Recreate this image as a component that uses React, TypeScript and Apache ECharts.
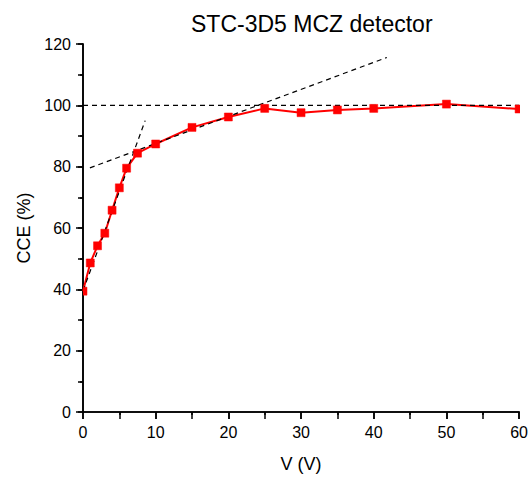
import React, { useEffect, useRef } from "react";
import * as echarts from "echarts";

const voltage = [0, 1, 2, 3, 4, 5, 6, 7.5, 10, 15, 20, 25, 30, 35, 40, 50, 60];
const cce = [39.4, 48.6, 54.2, 58.3, 65.8, 73.1, 79.5, 84.4, 87.4, 92.8, 96.2, 99.0, 97.6, 98.5, 99.0, 100.4, 98.8];

const fitSteep = [[0, 39.5], [8.55, 95.0]];
const fitSlow = [[0.95, 79.6], [41.8, 115.6]];
const plateau = [[0, 100], [60, 100]];

const xTicks = { min: 0, max: 60, interval: 10 };
const yTicks = { min: 0, max: 120, interval: 20 };

const FONT = "Liberation Sans, Arial, sans-serif";

export default function App() {
  const ref = useRef<HTMLDivElement>(null);
  useEffect(() => {
    if (!ref.current) return;
    const chart = echarts.init(ref.current, null, { renderer: "svg" });
    const pts = voltage.map((v, i) => [v, cce[i]]);
    const axisLine = { show: true, lineStyle: { color: "#000", width: 1.6 } };
    const dashed = (data: number[][]) => ({
      type: "line",
      data,
      showSymbol: false,
      symbol: "none",
      clip: true,
      z: 3,
      lineStyle: { color: "#000", width: 1.2, type: [5, 4] },
      silent: true,
    });
    chart.setOption({
      animation: false,
      backgroundColor: "#fff",
      textStyle: { fontFamily: FONT },
      title: {
        text: "STC-3D5 MCZ detector",
        left: 186,
        top: 7,
        textStyle: { fontFamily: FONT, fontSize: 23, fontWeight: "normal", color: "#000" },
      },
      grid: { left: 83, right: 8, top: 44, bottom: 64, containLabel: false },
      xAxis: [
        {
          type: "value",
          position: "bottom",
          min: xTicks.min,
          max: xTicks.max,
          interval: xTicks.interval,
          name: "V (V)",
          nameLocation: "middle",
          nameGap: 43,
          nameTextStyle: { fontFamily: FONT, fontSize: 18, color: "#000" },
          axisLine,
          axisTick: { show: true, inside: false, length: 7, lineStyle: { color: "#000", width: 1.5 } },
          minorTick: { show: true, splitNumber: 2, length: 3, lineStyle: { color: "#000", width: 1.5 } },
          axisLabel: { fontFamily: FONT, fontSize: 16, color: "#000", margin: 12 },
          splitLine: { show: false },
        },
        {
          type: "value",
          position: "top",
          min: xTicks.min,
          max: xTicks.max,
          interval: 5,
          axisLine,
          axisTick: { show: true, inside: true, length: 7, lineStyle: { color: "#000", width: 1.5 } },
          axisLabel: { show: false },
          splitLine: { show: false },
        },
      ],
      yAxis: [
        {
          type: "value",
          position: "left",
          min: yTicks.min,
          max: yTicks.max,
          interval: yTicks.interval,
          name: "CCE (%)",
          nameLocation: "middle",
          nameGap: 50,
          nameTextStyle: { fontFamily: FONT, fontSize: 18, color: "#000" },
          axisLine,
          axisTick: { show: true, inside: false, length: 7, lineStyle: { color: "#000", width: 1.5 } },
          minorTick: { show: true, splitNumber: 2, length: 3, lineStyle: { color: "#000", width: 1.5 } },
          axisLabel: { fontFamily: FONT, fontSize: 16, color: "#000", margin: 12 },
          splitLine: { show: false },
        },
        {
          type: "value",
          position: "right",
          min: yTicks.min,
          max: yTicks.max,
          interval: 10,
          axisLine,
          axisTick: { show: true, inside: true, length: 5, lineStyle: { color: "#000", width: 1.5 } },
          axisLabel: { show: false },
          splitLine: { show: false },
        },
      ],
      series: [
        {
          type: "line",
          data: pts,
          showSymbol: false,
          symbol: "none",
          clip: true,
          z: 2,
          lineStyle: { color: "#ff0000", width: 2 },
        },
        dashed(fitSteep),
        dashed(fitSlow),
        dashed(plateau),
        {
          type: "custom",
          data: pts,
          clip: true,
          z: 4,
          encode: { x: 0, y: 1 },
          renderItem: (params: any, api: any) => {
            const p = api.coord([api.value(0), api.value(1)]);
            const s = 8;
            return {
              type: "rect",
              shape: { x: p[0] - s / 2, y: p[1] - s / 2, width: s, height: s },
              style: { fill: "#ff0000", stroke: "#ff0000", lineWidth: 0.5 },
            };
          },
        },
      ],
    });
    return () => chart.dispose();
  }, []);
  return (
    <div
      ref={ref}
      style={{ position: "absolute", left: 0, top: 0, width: 531, height: 478 }}
    />
  );
}
